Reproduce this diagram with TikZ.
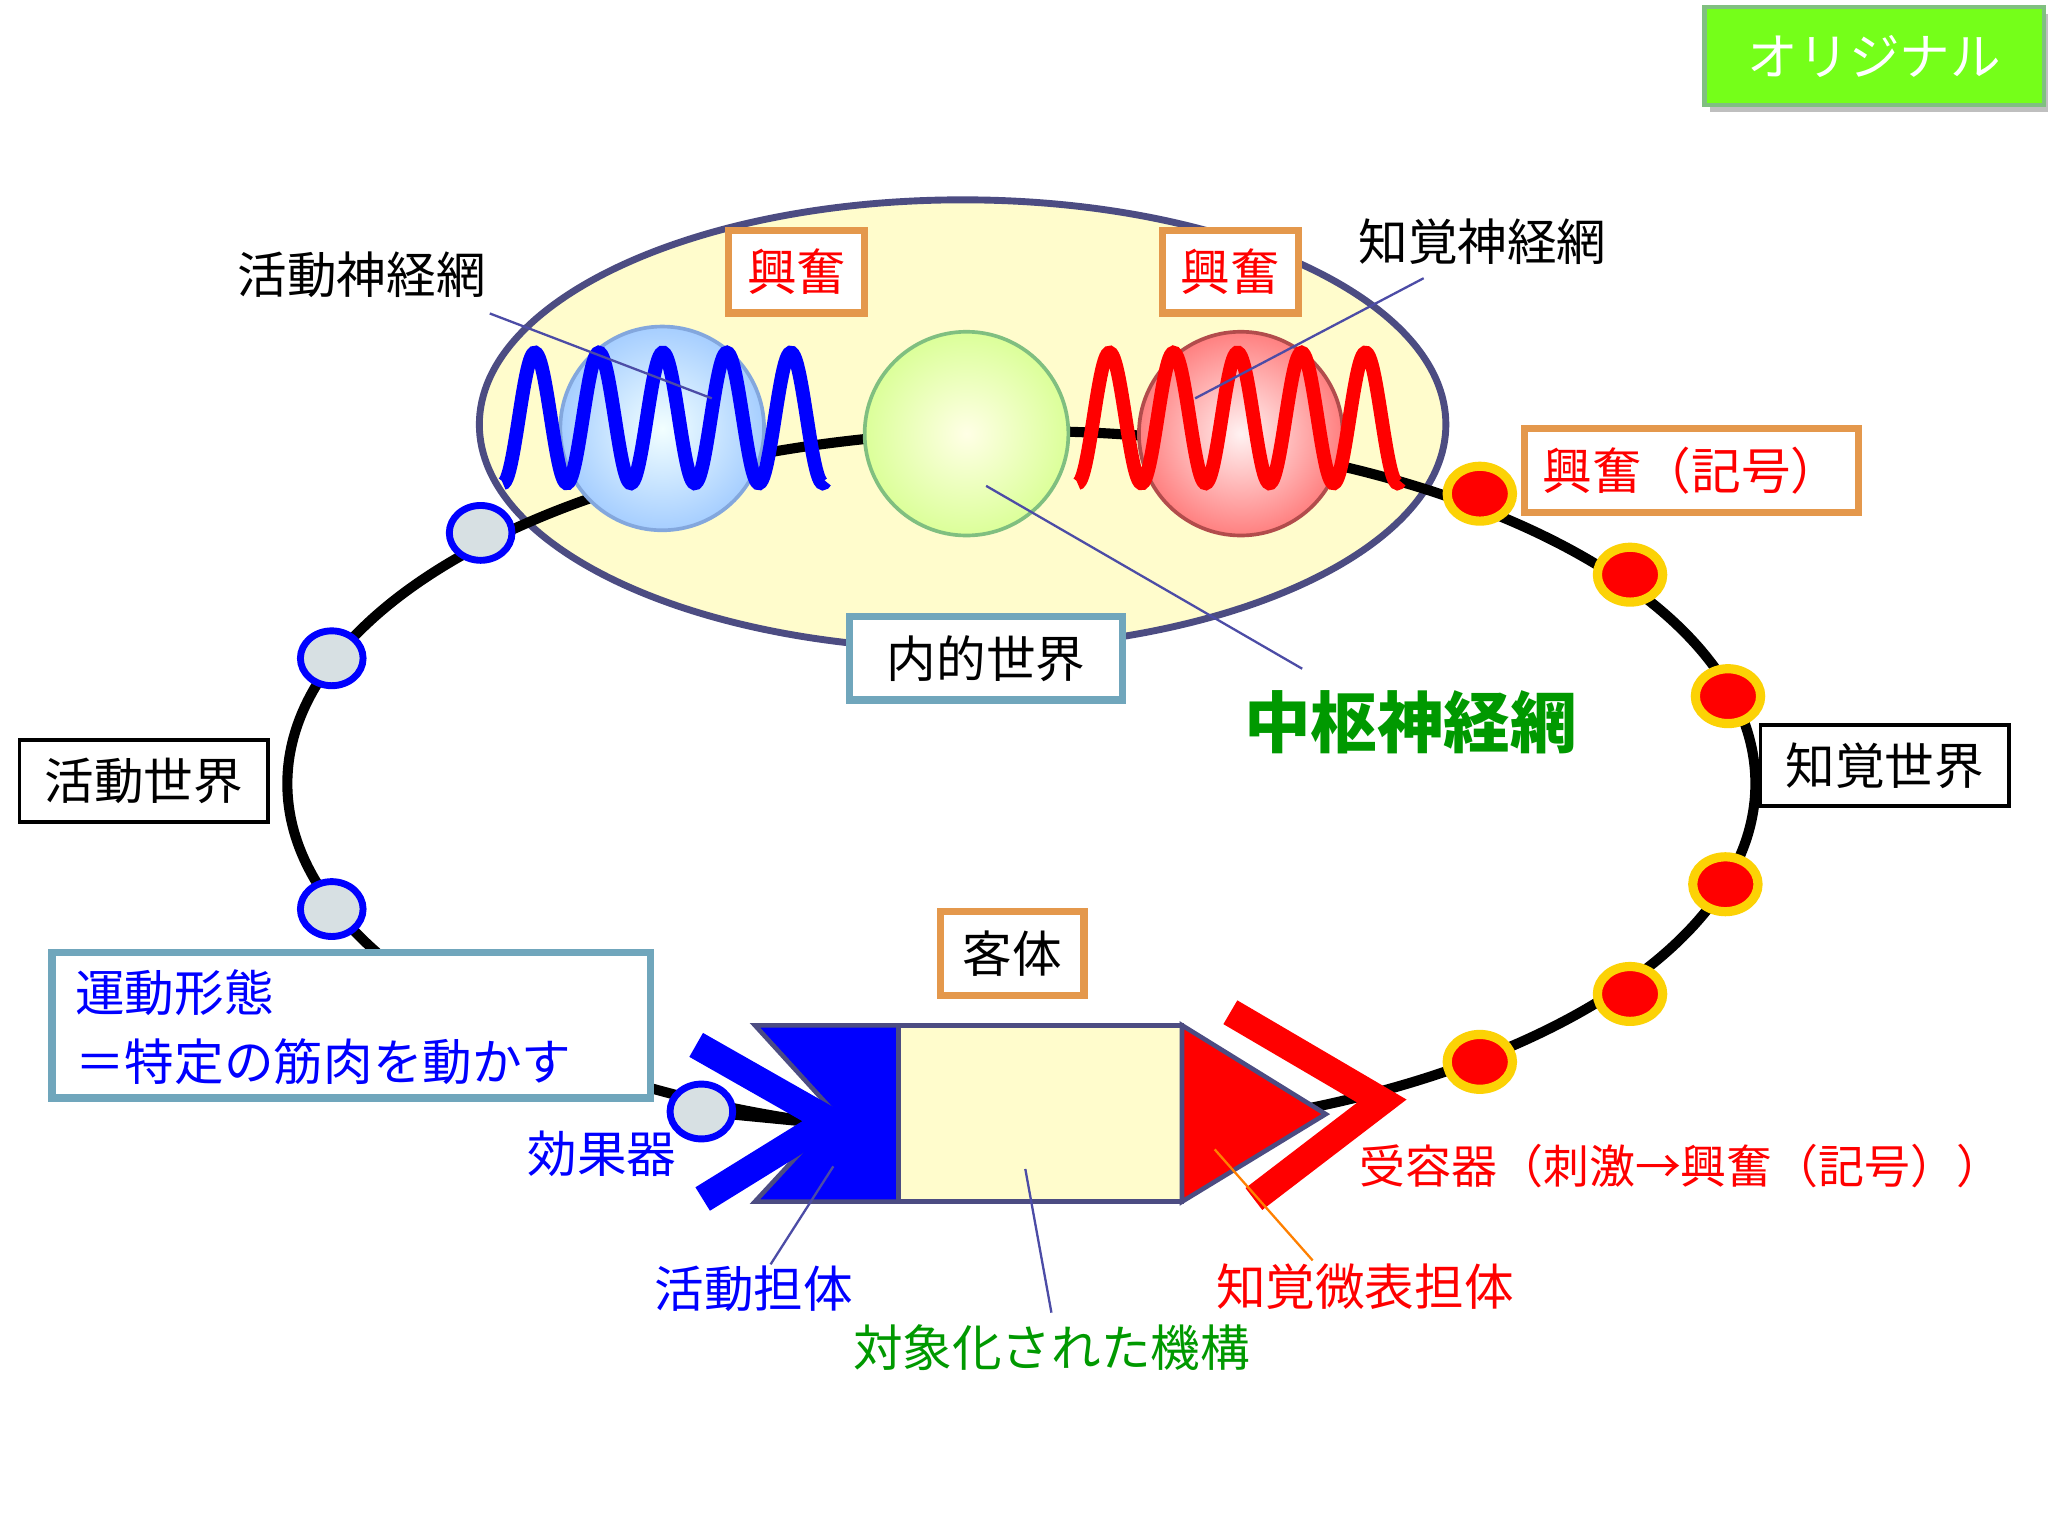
\documentclass[tikz,border=0pt]{standalone}
\usepackage{fontspec}
\setmainfont{Noto Sans CJK JP}
\begin{document}
\begin{tikzpicture}[x=0.01cm,y=-0.01cm,
  lbl/.style={font=\fontsize{10.8}{13}\selectfont},
  obox/.style={draw=orange!85!black!70,line width=1.6pt,fill=white,text=red,font=\fontsize{10.8}{13}\selectfont,inner sep=4pt},
  tbox/.style={draw=cyan!60!black!70,line width=1.6pt,fill=white,font=\fontsize{10.8}{13}\selectfont},
  kbox/.style={draw=black,line width=0.8pt,fill=white,font=\fontsize{10.8}{13}\selectfont},
  thin/.style={draw=blue!50!black!70,line width=0.5pt}]
\useasboundingbox (0,0) rectangle (1568,1176);
\fill[white] (0,0) rectangle (1568,1176);
% button
\fill[gray!50] (1309,11) rectangle (1569,86);
\node[fill=green!60!yellow!90!white,draw=green!50!black!50,line width=1pt,minimum width=2.6cm,minimum height=0.75cm,text=white,font=\fontsize{11}{13}\selectfont] (orig) at (1435,43) {オリジナル};
% big ellipse
\draw[fill=yellow!20,draw=blue!30!black!70,line width=1.5pt] (737,325) ellipse [x radius=370,y radius=172];
% main loop
\draw[line width=2.2pt] (782,600) ellipse [x radius=562,y radius=270];
% spheres
\shade[inner color=cyan!5,outer color=cyan!45!blue!35] (507,328) circle (78);
\draw[cyan!50!blue!50,line width=0.8pt] (507,328) circle (78);
\shade[inner color=yellow!10,outer color=green!35!yellow!40] (740,332) circle (78);
\draw[green!50!black!50,line width=0.8pt] (740,332) circle (78);
\shade[inner color=red!5,outer color=red!50] (950,332) circle (78);
\draw[red!40!gray,line width=0.8pt] (950,332) circle (78);
\coordinate (sg) at (755,372);
% waves
\draw[blue,line width=3pt] plot[domain=0:247,samples=240] ({\x+385},{320+50*cos(\x*7.347)});
\draw[red,line width=3pt] plot[domain=0:247,samples=240] ({\x+825},{320+50*cos(\x*7.347)});
% labels top
\node[obox] (k1) at (610,208) {興奮};
\node[obox] (k2) at (942,208) {興奮};
\node[obox,minimum width=2.3cm,minimum height=0.64cm] (k3) at (1295,360) {興奮（記号）};
\node[lbl] (kn) at (277,210) {活動神経網};
\node[lbl] (cn) at (1135,185) {知覚神経網};
\draw[thin] (375,240) -- (545,305);
\draw[thin] (1090,213) -- (915,305);
\node[text=green!60!black,font=\bfseries\fontsize{14.5}{16}\selectfont] (cs) at (1080,553) {中枢神経網};
\draw[thin] (sg) -- (997,512);
\node[tbox,minimum width=2.09cm,minimum height=0.64cm] (nw) at (755,504) {内的世界};
\node[kbox,minimum width=1.9cm,minimum height=0.63cm] (kw) at (110,598) {活動世界};
\node[kbox,minimum width=1.9cm,minimum height=0.62cm] (cw) at (1443,586) {知覚世界};
% dots
\foreach \p in {{(368,408)},{(254,504)},{(254,696)}}
  \draw[blue,line width=1.5pt,fill=cyan!20!gray!30] \p ellipse [x radius=24,y radius=21];
\foreach \p in {{(1133,378)},{(1248,440)},{(1323,533)},{(1321,677)},{(1248,761)},{(1133,813)}}
  \draw[yellow!70!orange,line width=2pt,fill=red] \p ellipse [x radius=25,y radius=21];
% 運動形態
\node[tbox,minimum width=4.58cm,minimum height=1.11cm] (ud) at (269,785) {};
\node[anchor=north west,align=left,text=blue,font=\fontsize{10.8}{15}\selectfont,inner sep=0] at (57,742) {運動形態\\＝特定の筋肉を動かす};
\draw[line width=2.2pt] (537,851) -- (630,860);
\draw[blue,line width=1.5pt,fill=cyan!20!gray!30] (537,851) ellipse [x radius=24,y radius=21];
% mechanism
\draw[fill=blue,draw=blue!30!black!70,line width=1pt] (578,785) -- (688,785) -- (688,920) -- (578,920) -- (640,853) -- cycle;
\draw[fill=yellow!20,draw=blue!30!black!70,line width=1pt] (688,785) rectangle (905,920);
\draw[fill=red,draw=blue!30!black!70,line width=1pt] (905,785) -- (1015,853) -- (905,920) -- cycle;
\draw[blue,line width=6pt] (533,800) -- (635,858) -- (538,918);
\draw[red,line width=6pt] (942,775) -- (1058,843) -- (960,918);
\node[obox,text=black,minimum width=1.1cm,minimum height=0.64cm] (kt) at (775,730) {客体};
% bottom labels
\node[lbl,text=blue] (kk) at (461,883) {効果器};
\node[lbl,text=blue] (kt2) at (577,987) {活動担体};
\draw[thin] (590,968) -- (638,893);
\node[lbl,text=green!60!black] (tz) at (805,1032) {対象化された機構};
\draw[thin] (805,1005) -- (785,895);
\node[lbl,text=red] (cb) at (1045,985) {知覚微表担体};
\draw[orange,line width=0.5pt] (1005,965) -- (930,880);
\node[text=red,font=\fontsize{10}{12}\selectfont] (jy) at (1287,893) {受容器（刺激→興奮（記号））};
\end{tikzpicture}
\end{document}
